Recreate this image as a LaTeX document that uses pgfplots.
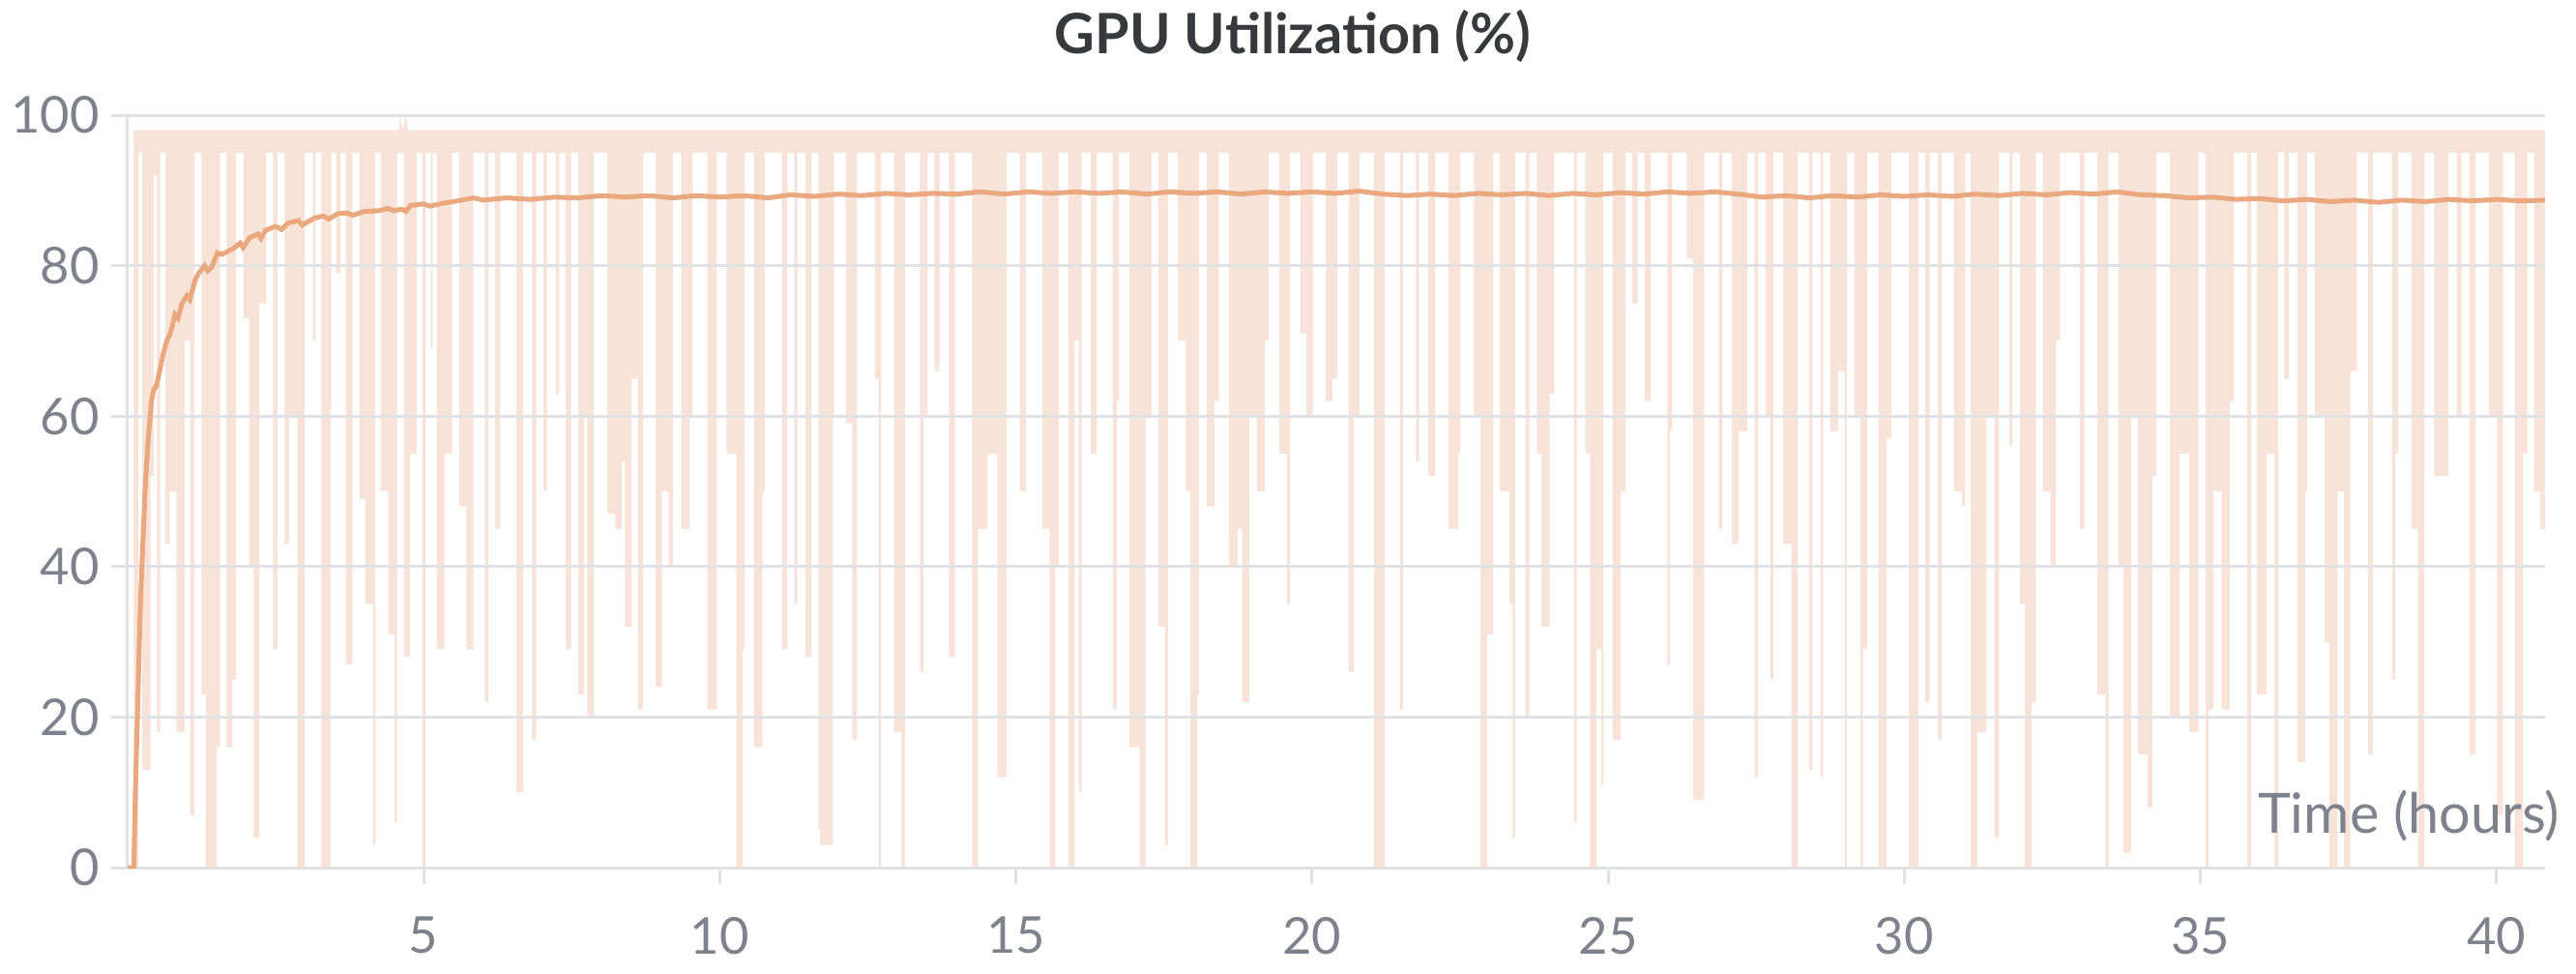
\documentclass[border=0pt]{standalone}
\usepackage{fontspec}
\setmainfont{Lato}
\usepackage{pgfplots}
\pgfplotsset{compat=1.18}
\usepackage{pgfplotstable}
\usepgfplotslibrary{fillbetween}

\definecolor{rawfill}{RGB}{248,227,216}
\definecolor{lineorange}{RGB}{234,168,126}
\definecolor{gridc}{RGB}{224,226,230}
\definecolor{tickc}{RGB}{125,130,140}
\definecolor{titlec}{RGB}{55,57,60}

% lower edge of the raw (min) band, held constant until the next x
\pgfplotstableread{
x lo
0.104 0
0.18 95
0.245 13
0.387 52
0.441 92
0.495 18
0.55 95
0.637 43
0.713 50
0.822 18
0.963 70
1.056 7
1.13 95
1.246 23
1.322 0
1.507 16
1.56 95
1.670 16
1.768 25
1.83 95
1.953 73
2.051 40
2.127 4
2.225 75
2.34 95
2.454 29
2.53 95
2.650 43
2.726 60
2.867 0
2.99 95
3.128 70
3.17 95
3.270 0
3.422 61
3.44 95
3.520 79
3.59 95
3.683 27
3.80 95
3.912 49
4.020 35
4.140 3
4.18 95
4.271 50
4.401 31
4.510 6
4.55 95
4.662 28
4.77 55
4.88 95
4.978 0
5.03 95
5.119 69
5.15 95
5.217 29
5.35 55
5.48 95
5.598 48
5.72 29
5.84 95
6.033 22
6.09 95
6.207 45
6.29 95
6.566 10
6.68 95
6.827 17
6.90 95
7.023 50
7.08 95
7.230 63
7.29 95
7.393 29
7.49 95
7.611 23
7.709 60
7.763 20
7.87 95
8.100 47
8.236 45
8.345 54
8.399 32
8.508 65
8.617 21
8.70 95
8.916 24
9.025 50
9.134 40
9.21 95
9.351 45
9.487 60
9.54 95
9.787 21
9.95 95
10.113 55
10.276 0
10.385 29
10.42 95
10.575 16
10.722 50
10.76 95
11.049 29
11.14 95
11.255 35
11.31 95
11.446 28
11.55 95
11.663 5
11.691 3
11.909 60
11.93 95
12.127 59
12.235 17
12.31 95
12.616 65
12.681 0
12.72 95
12.943 18
13.062 0
13.13 95
13.378 26
13.44 60
13.51 95
13.623 66
13.71 95
13.868 28
13.97 95
14.259 0
14.357 45
14.520 55
14.684 12
14.84 95
15.064 50
15.17 95
15.445 45
15.565 0
15.663 40
15.72 95
15.880 0
15.989 70
16.070 10
16.11 95
16.261 55
16.36 95
16.642 21
16.70 62
16.74 95
16.914 16
17.088 0
17.186 60
17.29 95
17.404 32
17.512 3
17.57 95
17.731 70
17.867 50
17.948 0
18.057 23
18.09 95
18.220 48
18.356 62
18.43 95
18.601 40
18.737 45
18.819 22
18.938 60
19.063 50
19.199 70
19.27 95
19.444 55
19.580 35
19.63 95
19.798 71
19.907 60
20.01 95
20.233 62
20.342 65
20.43 95
20.614 26
20.70 60
20.80 95
21.049 0
21.23 95
21.484 21
21.54 95
21.756 54
21.81 95
21.963 52
22.08 95
22.300 45
22.464 55
22.50 95
22.735 60
22.844 0
22.953 31
23.06 95
23.171 50
23.333 35
23.388 4
23.43 95
23.606 20
23.67 95
23.796 55
23.878 32
24.014 63
24.09 95
24.422 6
24.47 95
24.612 55
24.694 0
24.802 29
24.884 11
24.92 95
25.074 17
25.211 50
25.29 95
25.401 75
25.50 95
25.618 62
25.72 95
25.999 27
26.04 58
26.08 95
26.326 81
26.434 9
26.62 95
26.870 45
26.93 95
27.087 43
27.196 58
27.35 95
27.468 12
27.53 95
27.658 60
27.740 25
27.79 95
27.957 43
28.094 0
28.20 95
28.392 13
28.45 95
28.584 12
28.63 95
28.746 58
28.882 66
28.991 0
29.03 95
29.154 60
29.263 0
29.300 29
29.37 95
29.563 0
29.699 57
29.78 95
30.080 0
30.24 95
30.352 22
30.43 95
30.570 17
30.63 95
30.842 50
30.978 48
31.03 95
31.124 0
31.233 18
31.386 60
31.522 4
31.60 95
31.777 56
31.82 95
31.957 35
32.038 0
32.147 22
32.22 95
32.338 50
32.474 40
32.555 70
32.63 95
32.963 45
33.04 95
33.262 23
33.398 0
33.45 95
33.616 40
33.697 2
33.834 60
33.942 15
34.105 8
34.187 52
34.26 95
34.486 20
34.650 55
34.813 18
34.97 95
35.085 0
35.139 21
35.221 50
35.357 21
35.493 62
35.57 95
35.792 0
35.86 95
35.955 23
36.118 55
36.254 0
36.31 95
36.417 65
36.49 95
36.635 14
36.771 50
36.80 95
36.934 60
37.097 30
37.179 0
37.315 50
37.424 0
37.533 66
37.64 95
37.832 15
37.91 95
38.240 25
38.29 55
38.34 95
38.566 45
38.675 0
38.78 95
38.947 52
39.110 52
39.19 95
39.328 60
39.41 95
39.545 15
39.65 95
39.872 60
40.008 7
40.11 95
40.307 0
40.443 55
40.52 95
40.633 50
40.742 45
40.823 45
}\rawlo

% smoothed utilisation
\pgfplotstableread{
x y
0 0
0.104 0
0.13 10
0.158 18
0.185 26
0.212 34
0.24 40
0.267 45
0.3 51
0.348 57
0.403 62
0.44 63.5
0.485 64
0.54 66
0.593 68
0.66 70
0.72 71
0.757 72
0.8 73.5
0.85 73
0.92 75
1.0 76
1.05 75.5
1.137 78
1.2 79
1.3 80
1.35 79.3
1.42 79.8
1.518 81.7
1.6 81.5
1.79 82.3
1.9 83
1.95 82.4
2.06 83.7
2.2 84.2
2.25 83.6
2.33 84.7
2.5 85.2
2.6 84.8
2.7 85.6
2.88 86
2.95 85.4
3.15 86.3
3.3 86.6
3.4 86.2
3.55 86.9
3.69 87
3.8 86.7
4.0 87.2
4.24 87.3
4.4 87.6
4.5 87.3
4.62 87.5
4.7 87.2
4.78 88
5.0 88.2
5.1 87.9
5.33 88.3
5.5 88.5
5.84 89
6.0 88.7
6.4 89.0
6.8 88.8
7.2 89.1
7.6 89.0
8.0 89.3
8.4 89.1
8.8 89.3
9.2 89.0
9.6 89.3
10.0 89.1
10.4 89.3
10.8 89.0
11.2 89.4
11.6 89.2
12.0 89.5
12.4 89.3
12.8 89.6
13.2 89.4
13.6 89.6
14.0 89.5
14.4 89.8
14.8 89.5
15.2 89.8
15.6 89.6
16.0 89.8
16.4 89.6
16.8 89.8
17.2 89.5
17.6 89.8
18.0 89.6
18.4 89.8
18.8 89.5
19.2 89.8
19.6 89.6
20.0 89.8
20.4 89.6
20.8 89.9
21.2 89.5
21.6 89.3
22.0 89.5
22.4 89.3
22.8 89.6
23.2 89.4
23.6 89.6
24.0 89.3
24.4 89.6
24.8 89.4
25.2 89.7
25.6 89.5
26.0 89.8
26.4 89.6
26.8 89.8
27.2 89.5
27.6 89.1
28.0 89.3
28.4 89.0
28.8 89.3
29.2 89.1
29.6 89.4
30.0 89.2
30.4 89.4
30.8 89.2
31.2 89.5
31.6 89.3
32.0 89.6
32.4 89.4
32.8 89.7
33.2 89.5
33.6 89.8
34.0 89.4
34.4 89.3
34.8 89.0
35.2 89.1
35.6 88.8
36.0 88.9
36.4 88.6
36.8 88.8
37.2 88.5
37.6 88.7
38.0 88.4
38.4 88.7
38.8 88.5
39.2 88.8
39.6 88.6
40.0 88.8
40.4 88.6
40.82 88.7
}\smoothdata

\begin{document}
\begin{tikzpicture}
\begin{axis}[
  name=ax,
  set layers,
  scale only axis,
  width=500pt, height=155.6pt,
  xmin=0, xmax=40.82, ymin=0, ymax=100,
  axis x line*=bottom, axis y line*=left,
  axis line style={draw=gridc, line width=0.6pt},
  xtick={5,10,...,40}, ytick={0,20,...,100},
  ymajorgrids,
  grid style={draw=gridc, line width=0.6pt},
  tick align=outside,
  major tick length=3.4pt,
  tick style={draw=gridc, line width=0.6pt},
  /pgf/number format/assume math mode=true,
  ticklabel style={font=\fontsize{10.5}{12}\selectfont, text=tickc},
  xticklabel style={yshift=-3.3pt},
  yticklabel style={xshift=1.1pt},
  title={\bfseries GPU Utilization (\%)},
  title style={at={(rel axis cs:0.482,1)}, anchor=base, yshift=6.8pt,
    font=\fontsize{11.5}{13}\selectfont, text=titlec},
  xlabel={Time (hours)},
  xlabel style={at={(rel axis cs:1,0)}, anchor=base east, xshift=6.5pt, yshift=7.2pt,
    font=\fontsize{11.5}{13}\selectfont, text=tickc},
  no markers,
]
\addplot[name path=lo, draw=none, const plot] table[x=x, y=lo] {\rawlo};
\addplot[name path=top, draw=none] coordinates {(0.104,98) (4.58,98) (4.60,100) (4.64,98) (4.70,100) (4.73,98) (40.823,98)};
\addplot[fill=rawfill, draw=none] fill between[of=lo and top, on layer=axis background];
\addplot[lineorange, line width=1pt] table[x=x, y=y] {\smoothdata};
\end{axis}
\pgfresetboundingbox
\path ([shift={(-26.4pt,-21.8pt)}]ax.south west) rectangle ([shift={(506.4pt,179.4pt)}]ax.south west);
\end{tikzpicture}
\end{document}
